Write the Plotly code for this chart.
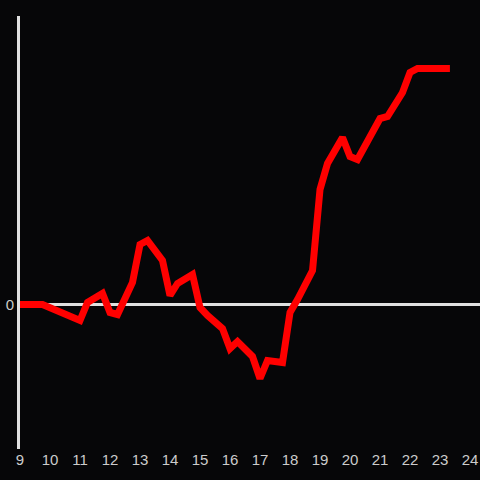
import plotly.graph_objects as go

hours = [9, 9.75, 11, 11.25, 11.75, 12, 12.25, 12.75, 13, 13.25, 13.75, 14, 14.25,
         14.75, 15, 15.25, 15.75, 16, 16.25, 16.75, 17, 17.25, 17.75, 18, 18.25,
         18.75, 19, 19.25, 19.75, 20, 20.25, 21, 21.25, 21.75, 22, 22.25, 23.33]
values = [0, 0, -16, 2, 11, -8, -10, 22, 60, 64, 44, 9, 21, 30, -3, -11, -24, -44,
          -37, -52, -74, -56, -58, -8, 5, 34, 115, 141, 167, 148, 145, 186, 188,
          212, 232, 236, 236]
x_ticks = list(range(9, 25))

fig = go.Figure(go.Scatter(x=hours, y=values, mode="lines",
                           line=dict(color="#ff0000", width=7),
                           hoverinfo="skip"))

fig.update_layout(
    width=480, height=480,
    margin=dict(l=20, r=0, t=16, b=31),
    paper_bgcolor="#060608", plot_bgcolor="#060608",
    showlegend=False,
    font=dict(family="Liberation Sans, Arial, sans-serif", size=15, color="#cccccc"),
    xaxis=dict(range=[9, 24.333], tickvals=x_ticks, ticktext=[str(t) for t in x_ticks],
               showgrid=False, zeroline=False, showline=False, ticks="",
               tickfont=dict(size=15)),
    yaxis=dict(range=[-144.5, 288.5], tickvals=[0], ticktext=["0"],
               showgrid=False, zeroline=True, zerolinecolor="#e0e0e0", zerolinewidth=3,
               showline=True, linecolor="#e0e0e0", linewidth=3, ticks="",
               tickfont=dict(size=15)),
)

fig.write_html("out.html", config={"displayModeBar": False},
               post_script="document.body.style.margin='0';document.body.style.overflow='hidden';")
